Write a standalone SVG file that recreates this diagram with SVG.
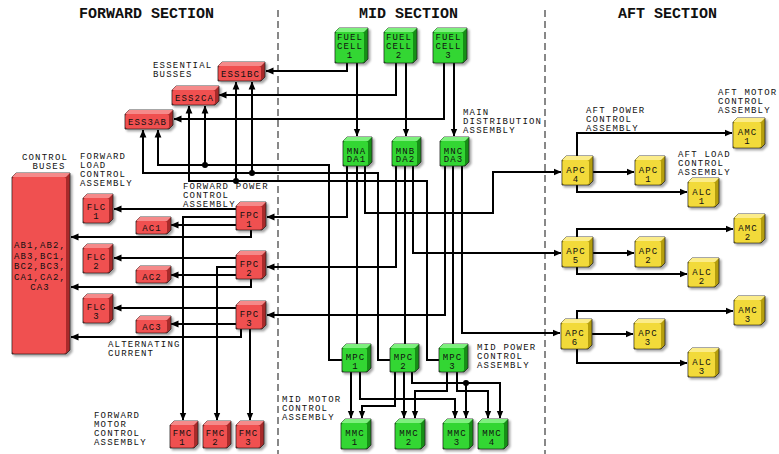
<svg xmlns="http://www.w3.org/2000/svg" width="779" height="454" viewBox="0 0 779 454">
<defs>
<marker id="ah" viewBox="0 0 8 8" refX="7.5" refY="4" markerWidth="8" markerHeight="8" markerUnits="userSpaceOnUse" orient="auto"><path d="M0,0.6 L8,4 L0,7.4 z" fill="#000"/></marker>
<filter id="sh" x="-20%" y="-20%" width="150%" height="150%"><feDropShadow dx="2" dy="2" stdDeviation="1.2" flood-color="#000" flood-opacity="0.35"/></filter>
</defs>
<style>
text{font-family:"Liberation Mono","DejaVu Sans Mono",monospace;fill:#111}
.title{font-size:15px;font-weight:bold}
.lbl{font-size:9px;letter-spacing:1.2px}
.bt{font-size:9px;letter-spacing:1.1px;text-anchor:middle}
.sil{stroke:#222;stroke-width:0.8;filter:url(#sh)}
.r .sil{fill:#a82a2a}.r .top{fill:#f58a8a}.r .face{fill:#f05050}
.g .sil{fill:#178f17}.g .top{fill:#7ef07e}.g .face{fill:#33d633}
.y .sil{fill:#b59e10}.y .top{fill:#fbec8a}.y .face{fill:#f2da3a}
.face{stroke:none}
.conn path{fill:none;stroke:#000;stroke-width:2}
.conn .a{marker-end:url(#ah)}
.div{stroke:#888;stroke-width:2;stroke-dasharray:7 4}
</style>
<rect width="779" height="454" fill="#fff"/>
<line class="div" x1="278" y1="10" x2="278" y2="454"/>
<line class="div" x1="545" y1="10" x2="545" y2="454"/>
<text class="title" x="79" y="18">FORWARD SECTION</text>
<text class="title" x="359" y="18">MID SECTION</text>
<text class="title" x="618" y="18">AFT SECTION</text>

<g class="conn" id="connectors">
<path class="a" d="M347,63 V71 H266"/>
<path class="a" d="M357,63 V136"/>
<path class="a" d="M396,63 V95 H219"/>
<path class="a" d="M406,63 V136"/>
<path class="a" d="M444,63 V119 H174"/>
<path class="a" d="M454,63 V136"/>
<path class="a" d="M342,360 H329 V165 H158 V130"/>
<path class="a" d="M205,165 V106"/>
<path class="a" d="M390,360 H378 V173 H143 V130"/>
<path class="a" d="M252,173 V82"/>
<path class="a" d="M439,360 H427 V181 H189 V106"/>
<path class="a" d="M236,181 V82"/>
<path class="a" d="M347,166 V217 H267"/>
<path d="M357,166 V344"/>
<path class="a" d="M365,166 V213 H493 V172 H561"/>
<path class="a" d="M396,166 V267 H267"/>
<path d="M405,166 V344"/>
<path class="a" d="M413,166 V253 H561"/>
<path class="a" d="M445,166 V315 H267"/>
<path d="M453,166 V344"/>
<path class="a" d="M462,166 V333 H560"/>
<path class="a" d="M236,209 H114"/>
<path class="a" d="M236,225 H171"/>
<path class="a" d="M251,230 V237 H71"/>
<path class="a" d="M236,217 H183 V420"/>
<path class="a" d="M236,258 H114"/>
<path class="a" d="M236,275 H171"/>
<path class="a" d="M251,279 V287 H71"/>
<path class="a" d="M236,267 H217 V420"/>
<path class="a" d="M236,308 H114"/>
<path class="a" d="M236,324 H171"/>
<path class="a" d="M241,329 V337 H71"/>
<path class="a" d="M250,329 V420"/>
<path class="a" d="M593,172 H634"/>
<path class="a" d="M577,185 V192 H687"/>
<path class="a" d="M577,156 V133 H732"/>
<path class="a" d="M593,253 H634"/>
<path class="a" d="M577,267 V274 H687"/>
<path class="a" d="M577,237 V229 H733"/>
<path class="a" d="M592,334 H633"/>
<path class="a" d="M577,349 V363 H687"/>
<path class="a" d="M577,319 V311 H733"/>
<path class="a" d="M351,372 V418"/>
<path class="a" d="M360,372 V399 H455 V418"/>
<path class="a" d="M395,372 V406 H362 V418"/>
<path class="a" d="M404,372 V418"/>
<path class="a" d="M412,372 V383 H500 V418"/>
<path class="a" d="M466,383 V418"/>
<path class="a" d="M447,372 V391 H415 V418"/>
<path class="a" d="M457,372 V391 H488 V418"/>
<circle cx="205" cy="165" r="3"/>
<circle cx="252" cy="173" r="3"/>
<circle cx="236" cy="181" r="3"/>
<circle cx="466" cy="383" r="3"/>
</g>

<g id="labels">
<text class="lbl" x="153" y="68">ESSENTIAL</text>
<text class="lbl" x="153" y="77">BUSSES</text>
<text class="lbl" x="45" y="160" text-anchor="middle">CONTROL</text>
<text class="lbl" x="49" y="169" text-anchor="middle">BUSES</text>
<text class="lbl" x="80" y="159">FORWARD</text>
<text class="lbl" x="80" y="168">LOAD</text>
<text class="lbl" x="80" y="177">CONTROL</text>
<text class="lbl" x="80" y="186">ASSEMBLY</text>
<text class="lbl" x="183" y="189">FORWARD POWER</text>
<text class="lbl" x="183" y="198">CONTROL</text>
<text class="lbl" x="183" y="207">ASSEMBLY</text>
<text class="lbl" x="108" y="347">ALTERNATING</text>
<text class="lbl" x="108" y="356">CURRENT</text>
<text class="lbl" x="94" y="418">FORWARD</text>
<text class="lbl" x="94" y="427">MOTOR</text>
<text class="lbl" x="94" y="436">CONTROL</text>
<text class="lbl" x="94" y="445">ASSEMBLY</text>
<text class="lbl" x="463" y="115">MAIN</text>
<text class="lbl" x="463" y="124">DISTRIBUTION</text>
<text class="lbl" x="463" y="133">ASSEMBLY</text>
<text class="lbl" x="477" y="349.5">MID POWER</text>
<text class="lbl" x="477" y="358.5">CONTROL</text>
<text class="lbl" x="477" y="367.5">ASSEMBLY</text>
<text class="lbl" x="282" y="402">MID MOTOR</text>
<text class="lbl" x="282" y="411">CONTROL</text>
<text class="lbl" x="282" y="420">ASSEMBLY</text>
<text class="lbl" x="586" y="113">AFT POWER</text>
<text class="lbl" x="586" y="122">CONTROL</text>
<text class="lbl" x="586" y="131">ASSEMBLY</text>
<text class="lbl" x="718" y="95">AFT MOTOR</text>
<text class="lbl" x="718" y="104">CONTROL</text>
<text class="lbl" x="718" y="113">ASSEMBLY</text>
<text class="lbl" x="678" y="157">AFT LOAD</text>
<text class="lbl" x="678" y="166">CONTROL</text>
<text class="lbl" x="678" y="175">ASSEMBLY</text>
</g>

<g id="fc1" class="g"><polygon class="sil" points="335,32 339,28 368,28 368,59 364,63 335,63"/><polygon class="top" points="335,32 339,28 368,28 364,32"/><rect class="face" x="335.5" y="32" width="28.5" height="30.5" rx="2"/><text class="bt" x="350" y="39.5">FUEL</text><text class="bt" x="350" y="48.5">CELL</text><text class="bt" x="350" y="57.5">1</text></g>
<g id="fc2" class="g"><polygon class="sil" points="384,32 388,28 417,28 417,59 413,63 384,63"/><polygon class="top" points="384,32 388,28 417,28 413,32"/><rect class="face" x="384.5" y="32" width="28.5" height="30.5" rx="2"/><text class="bt" x="399" y="39.5">FUEL</text><text class="bt" x="399" y="48.5">CELL</text><text class="bt" x="399" y="57.5">2</text></g>
<g id="fc3" class="g"><polygon class="sil" points="433,32 437,28 467,28 467,59 463,63 433,63"/><polygon class="top" points="433,32 437,28 467,28 463,32"/><rect class="face" x="433.5" y="32" width="29.5" height="30.5" rx="2"/><text class="bt" x="448.5" y="39.5">FUEL</text><text class="bt" x="448.5" y="48.5">CELL</text><text class="bt" x="448.5" y="57.5">3</text></g>

<g id="ess1bc" class="r"><polygon class="sil" points="218,66 222,62 265,62 265,77 261,81 218,81"/><polygon class="top" points="218,66 222,62 265,62 261,66"/><rect class="face" x="218.5" y="66" width="42.5" height="14.5" rx="2"/><text class="bt" x="240.5" y="76.5">ESS1BC</text></g>
<g id="ess2ca" class="r"><polygon class="sil" points="172,90 176,86 219,86 219,101 215,105 172,105"/><polygon class="top" points="172,90 176,86 219,86 215,90"/><rect class="face" x="172.5" y="90" width="42.5" height="14.5" rx="2"/><text class="bt" x="194.5" y="100.5">ESS2CA</text></g>
<g id="ess3ab" class="r"><polygon class="sil" points="125,114 129,110 173,110 173,125 169,129 125,129"/><polygon class="top" points="125,114 129,110 173,110 169,114"/><rect class="face" x="125.5" y="114" width="43.5" height="14.5" rx="2"/><text class="bt" x="147.5" y="124.5">ESS3AB</text></g>

<g id="mna" class="g"><polygon class="sil" points="343,141 347,137 372,137 372,162 368,166 343,166"/><polygon class="top" points="343,141 347,137 372,137 368,141"/><rect class="face" x="343.5" y="141" width="24.5" height="24.5" rx="2"/><text class="bt" x="356.5" y="153.5">MNA</text><text class="bt" x="356.5" y="162">DA1</text></g>
<g id="mnb" class="g"><polygon class="sil" points="392,141 396,137 421,137 421,162 417,166 392,166"/><polygon class="top" points="392,141 396,137 421,137 417,141"/><rect class="face" x="392.5" y="141" width="24.5" height="24.5" rx="2"/><text class="bt" x="405.5" y="153.5">MNB</text><text class="bt" x="405.5" y="162">DA2</text></g>
<g id="mnc" class="g"><polygon class="sil" points="440,141 444,137 469,137 469,162 465,166 440,166"/><polygon class="top" points="440,141 444,137 469,137 465,141"/><rect class="face" x="440.5" y="141" width="24.5" height="24.5" rx="2"/><text class="bt" x="453.5" y="153.5">MNC</text><text class="bt" x="453.5" y="162">DA3</text></g>

<g id="cbus" class="r"><polygon class="sil" points="12,177 16,173 70,173 70,350 66,354 12,354"/><polygon class="top" points="12,177 16,173 70,173 66,177"/><rect class="face" x="12.5" y="177" width="53.5" height="176.5" rx="2"/><text class="bt" x="40" y="248">AB1,AB2,</text><text class="bt" x="40" y="258.5">AB3,BC1,</text><text class="bt" x="40" y="269">BC2,BC3,</text><text class="bt" x="40" y="279.5">CA1,CA2,</text><text class="bt" x="40" y="290">CA3</text></g>

<g id="flc1" class="r"><polygon class="sil" points="83,198 87,194 113,194 113,219 109,223 83,223"/><polygon class="top" points="83,198 87,194 113,194 109,198"/><rect class="face" x="83.5" y="198" width="25.5" height="24.5" rx="2"/><text class="bt" x="96.5" y="210">FLC</text><text class="bt" x="96.5" y="219">1</text></g>
<g id="flc2" class="r"><polygon class="sil" points="83,248 87,244 113,244 113,269 109,273 83,273"/><polygon class="top" points="83,248 87,244 113,244 109,248"/><rect class="face" x="83.5" y="248" width="25.5" height="24.5" rx="2"/><text class="bt" x="96.5" y="260">FLC</text><text class="bt" x="96.5" y="269">2</text></g>
<g id="flc3" class="r"><polygon class="sil" points="83,298 87,294 113,294 113,319 109,323 83,323"/><polygon class="top" points="83,298 87,294 113,294 109,298"/><rect class="face" x="83.5" y="298" width="25.5" height="24.5" rx="2"/><text class="bt" x="96.5" y="310">FLC</text><text class="bt" x="96.5" y="319">3</text></g>

<g id="ac1" class="r"><polygon class="sil" points="136,221 140,217 171,217 171,230 167,234 136,234"/><polygon class="top" points="136,221 140,217 171,217 167,221"/><rect class="face" x="136.5" y="221" width="30.5" height="12.5" rx="2"/><text class="bt" x="152" y="230.5">AC1</text></g>
<g id="ac2" class="r"><polygon class="sil" points="136,270 140,266 171,266 171,279 167,283 136,283"/><polygon class="top" points="136,270 140,266 171,266 167,270"/><rect class="face" x="136.5" y="270" width="30.5" height="12.5" rx="2"/><text class="bt" x="152" y="279.5">AC2</text></g>
<g id="ac3" class="r"><polygon class="sil" points="136,320 140,316 171,316 171,329 167,333 136,333"/><polygon class="top" points="136,320 140,316 171,316 167,320"/><rect class="face" x="136.5" y="320" width="30.5" height="12.5" rx="2"/><text class="bt" x="152" y="329.5">AC3</text></g>

<g id="fpc1" class="r"><polygon class="sil" points="236,206 240,202 266,202 266,226 262,230 236,230"/><polygon class="top" points="236,206 240,202 266,202 262,206"/><rect class="face" x="236.5" y="206" width="25.5" height="23.5" rx="2"/><text class="bt" x="249.5" y="217.5">FPC</text><text class="bt" x="249.5" y="227">1</text></g>
<g id="fpc2" class="r"><polygon class="sil" points="236,255 240,251 266,251 266,275 262,279 236,279"/><polygon class="top" points="236,255 240,251 266,251 262,255"/><rect class="face" x="236.5" y="255" width="25.5" height="23.5" rx="2"/><text class="bt" x="249.5" y="266.5">FPC</text><text class="bt" x="249.5" y="276">2</text></g>
<g id="fpc3" class="r"><polygon class="sil" points="236,305 240,301 266,301 266,325 262,329 236,329"/><polygon class="top" points="236,305 240,301 266,301 262,305"/><rect class="face" x="236.5" y="305" width="25.5" height="23.5" rx="2"/><text class="bt" x="249.5" y="316.5">FPC</text><text class="bt" x="249.5" y="326">3</text></g>

<g id="fmc1" class="r"><polygon class="sil" points="170,425 174,421 198,421 198,444 194,448 170,448"/><polygon class="top" points="170,425 174,421 198,421 194,425"/><rect class="face" x="170.5" y="425" width="23.5" height="22.5" rx="2"/><text class="bt" x="182.5" y="436">FMC</text><text class="bt" x="182.5" y="445">1</text></g>
<g id="fmc2" class="r"><polygon class="sil" points="203,425 207,421 231,421 231,444 227,448 203,448"/><polygon class="top" points="203,425 207,421 231,421 227,425"/><rect class="face" x="203.5" y="425" width="23.5" height="22.5" rx="2"/><text class="bt" x="215.5" y="436">FMC</text><text class="bt" x="215.5" y="445">2</text></g>
<g id="fmc3" class="r"><polygon class="sil" points="236,425 240,421 264,421 264,444 260,448 236,448"/><polygon class="top" points="236,425 240,421 264,421 260,425"/><rect class="face" x="236.5" y="425" width="23.5" height="22.5" rx="2"/><text class="bt" x="248.5" y="436">FMC</text><text class="bt" x="248.5" y="445">3</text></g>

<g id="mpc1" class="g"><polygon class="sil" points="342,348 346,344 371,344 371,368 367,372 342,372"/><polygon class="top" points="342,348 346,344 371,344 367,348"/><rect class="face" x="342.5" y="348" width="24.5" height="23.5" rx="2"/><text class="bt" x="355.5" y="360">MPC</text><text class="bt" x="355.5" y="369">1</text></g>
<g id="mpc2" class="g"><polygon class="sil" points="390,348 394,344 419,344 419,368 415,372 390,372"/><polygon class="top" points="390,348 394,344 419,344 415,348"/><rect class="face" x="390.5" y="348" width="24.5" height="23.5" rx="2"/><text class="bt" x="403.5" y="360">MPC</text><text class="bt" x="403.5" y="369">2</text></g>
<g id="mpc3" class="g"><polygon class="sil" points="439,348 443,344 468,344 468,368 464,372 439,372"/><polygon class="top" points="439,348 443,344 468,344 464,348"/><rect class="face" x="439.5" y="348" width="24.5" height="23.5" rx="2"/><text class="bt" x="452.5" y="360">MPC</text><text class="bt" x="452.5" y="369">3</text></g>

<g id="mmc1" class="g"><polygon class="sil" points="341,423 345,419 371,419 371,445 367,449 341,449"/><polygon class="top" points="341,423 345,419 371,419 367,423"/><rect class="face" x="341.5" y="423" width="25.5" height="25.5" rx="2"/><text class="bt" x="355" y="436">MMC</text><text class="bt" x="355" y="445">1</text></g>
<g id="mmc2" class="g"><polygon class="sil" points="395,423 399,419 425,419 425,445 421,449 395,449"/><polygon class="top" points="395,423 399,419 425,419 421,423"/><rect class="face" x="395.5" y="423" width="25.5" height="25.5" rx="2"/><text class="bt" x="409" y="436">MMC</text><text class="bt" x="409" y="445">2</text></g>
<g id="mmc3" class="g"><polygon class="sil" points="443,423 447,419 473,419 473,445 469,449 443,449"/><polygon class="top" points="443,423 447,419 473,419 469,423"/><rect class="face" x="443.5" y="423" width="25.5" height="25.5" rx="2"/><text class="bt" x="457" y="436">MMC</text><text class="bt" x="457" y="445">3</text></g>
<g id="mmc4" class="g"><polygon class="sil" points="478,423 482,419 508,419 508,445 504,449 478,449"/><polygon class="top" points="478,423 482,419 508,419 504,423"/><rect class="face" x="478.5" y="423" width="25.5" height="25.5" rx="2"/><text class="bt" x="492" y="436">MMC</text><text class="bt" x="492" y="445">4</text></g>

<g id="apc4" class="y"><polygon class="sil" points="562,160 566,156 593,156 593,181 589,185 562,185"/><polygon class="top" points="562,160 566,156 593,156 589,160"/><rect class="face" x="562.5" y="160" width="26.5" height="24.5" rx="2"/><text class="bt" x="576" y="172.5">APC</text><text class="bt" x="576" y="181.5">4</text></g>
<g id="apc1" class="y"><polygon class="sil" points="635,160 639,156 665,156 665,181 661,185 635,185"/><polygon class="top" points="635,160 639,156 665,156 661,160"/><rect class="face" x="635.5" y="160" width="25.5" height="24.5" rx="2"/><text class="bt" x="648.5" y="172.5">APC</text><text class="bt" x="648.5" y="181.5">1</text></g>
<g id="alc1" class="y"><polygon class="sil" points="688,182 692,178 719,178 719,203 715,207 688,207"/><polygon class="top" points="688,182 692,178 719,178 715,182"/><rect class="face" x="688.5" y="182" width="26.5" height="24.5" rx="2"/><text class="bt" x="702" y="194.5">ALC</text><text class="bt" x="702" y="203.5">1</text></g>
<g id="amc1" class="y"><polygon class="sil" points="733,122 737,118 765,118 765,144 761,148 733,148"/><polygon class="top" points="733,122 737,118 765,118 761,122"/><rect class="face" x="733.5" y="122" width="27.5" height="25.5" rx="2"/><text class="bt" x="747.5" y="135">AMC</text><text class="bt" x="747.5" y="144">1</text></g>

<g id="apc5" class="y"><polygon class="sil" points="562,241 566,237 593,237 593,263 589,267 562,267"/><polygon class="top" points="562,241 566,237 593,237 589,241"/><rect class="face" x="562.5" y="241" width="26.5" height="25.5" rx="2"/><text class="bt" x="576" y="254">APC</text><text class="bt" x="576" y="263">5</text></g>
<g id="apc2" class="y"><polygon class="sil" points="635,241 639,237 665,237 665,263 661,267 635,267"/><polygon class="top" points="635,241 639,237 665,237 661,241"/><rect class="face" x="635.5" y="241" width="25.5" height="25.5" rx="2"/><text class="bt" x="648.5" y="254">APC</text><text class="bt" x="648.5" y="263">2</text></g>
<g id="alc2" class="y"><polygon class="sil" points="688,262 692,258 719,258 719,283 715,287 688,287"/><polygon class="top" points="688,262 692,258 719,258 715,262"/><rect class="face" x="688.5" y="262" width="26.5" height="24.5" rx="2"/><text class="bt" x="702" y="274.5">ALC</text><text class="bt" x="702" y="283.5">2</text></g>
<g id="amc2" class="y"><polygon class="sil" points="734,218 738,214 765,214 765,239 761,243 734,243"/><polygon class="top" points="734,218 738,214 765,214 761,218"/><rect class="face" x="734.5" y="218" width="26.5" height="24.5" rx="2"/><text class="bt" x="748" y="230.5">AMC</text><text class="bt" x="748" y="239.5">2</text></g>

<g id="apc6" class="y"><polygon class="sil" points="561,323 565,319 592,319 592,345 588,349 561,349"/><polygon class="top" points="561,323 565,319 592,319 588,323"/><rect class="face" x="561.5" y="323" width="26.5" height="25.5" rx="2"/><text class="bt" x="575" y="336">APC</text><text class="bt" x="575" y="345">6</text></g>
<g id="apc3" class="y"><polygon class="sil" points="634,323 638,319 665,319 665,345 661,349 634,349"/><polygon class="top" points="634,323 638,319 665,319 661,323"/><rect class="face" x="634.5" y="323" width="26.5" height="25.5" rx="2"/><text class="bt" x="648" y="336">APC</text><text class="bt" x="648" y="345">3</text></g>
<g id="alc3" class="y"><polygon class="sil" points="688,352 692,348 719,348 719,373 715,377 688,377"/><polygon class="top" points="688,352 692,348 719,348 715,352"/><rect class="face" x="688.5" y="352" width="26.5" height="24.5" rx="2"/><text class="bt" x="702" y="364.5">ALC</text><text class="bt" x="702" y="373.5">3</text></g>
<g id="amc3" class="y"><polygon class="sil" points="734,300 738,296 765,296 765,321 761,325 734,325"/><polygon class="top" points="734,300 738,296 765,296 761,300"/><rect class="face" x="734.5" y="300" width="26.5" height="24.5" rx="2"/><text class="bt" x="748" y="312.5">AMC</text><text class="bt" x="748" y="321.5">3</text></g>
</svg>
